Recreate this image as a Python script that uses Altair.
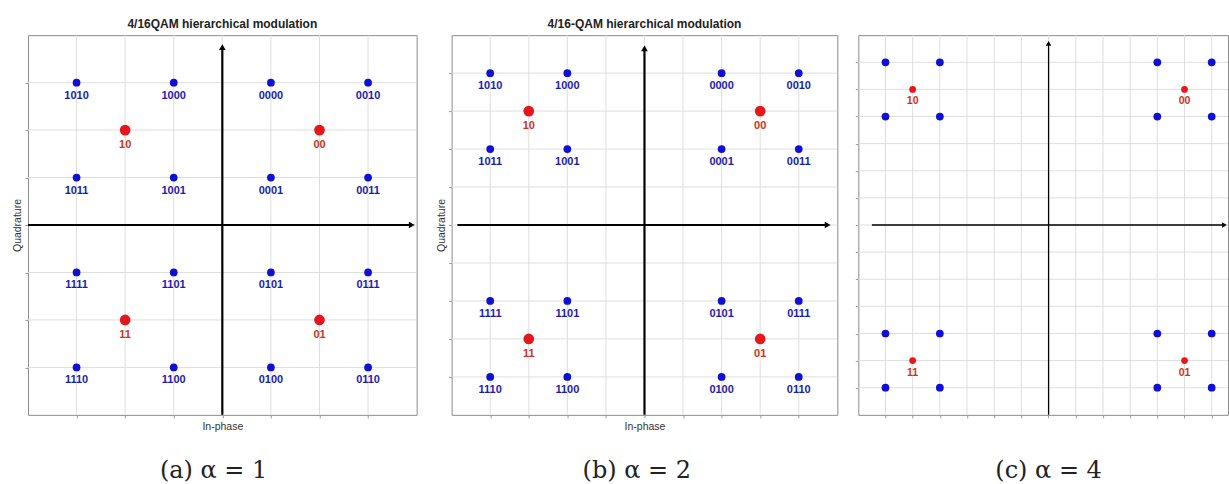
import altair as alt
import pandas as pd

# ---- data ----
blue_labels = ["0000", "0010", "0001", "0011",
               "1010", "1000", "1011", "1001",
               "1111", "1101", "1110", "1100",
               "0101", "0111", "0100", "0110"]
blue_i_a = [1, 3, 1, 3, -3, -1, -3, -1, -3, -1, -3, -1, 1, 3, 1, 3]
blue_q_a = [3, 3, 1, 1, 3, 3, 1, 1, -1, -1, -3, -3, -1, -1, -3, -3]
blue_i_b = [2, 4, 2, 4, -4, -2, -4, -2, -4, -2, -4, -2, 2, 4, 2, 4]
blue_q_b = [4, 4, 2, 2, 4, 4, 2, 2, -2, -2, -4, -4, -2, -2, -4, -4]
blue_i_c = [4, 6, 4, 6, -6, -4, -6, -4, -6, -4, -6, -4, 4, 6, 4, 6]
blue_q_c = [6, 6, 4, 4, 6, 6, 4, 4, -4, -4, -6, -6, -4, -4, -6, -6]

red_labels = ["00", "10", "11", "01"]
red_i_a = [2, -2, -2, 2]
red_q_a = [2, 2, -2, -2]
red_i_b = [3, -3, -3, 3]
red_q_b = [3, 3, -3, -3]
red_i_c = [5, -5, -5, 5]
red_q_c = [5, 5, -5, -5]

grid_a = [-3, -2, -1, 0, 1, 2, 3]
grid_b = [-4, -3, -2, -1, 0, 1, 2, 3, 4]
grid_c_x = [-6, -5, -4, -3, -2, -1, 0, 1, 2, 3, 4, 5, 6]
grid_c_y = [-6, -5, -4, -3, -2, -1, 0, 1, 2, 3, 4, 5, 6]

headers = ["4/16QAM hierarchical modulation", "4/16-QAM hierarchical modulation", ""]
captions = ["(a) \u03b1 = 1", "(b) \u03b1 = 2", "(c) \u03b1 = 4"]

BLUE = "#0f0fd6"
RED = "#e5161c"
BLUE_TXT = "#1c1cb0"
RED_TXT = "#cc3322"
FRAME = "#8c8c8c"
GRID = "#dedede"


def panel(bi, bq, ri, rq, xdom, ydom, gx, gy, w, h, header, caption, cap_x,
          show_blue_text, red_size, lw, xline, yline_top, xarrow, ytitle, xtitle):
    axx = dict(values=gx, tickCount=len(gx), labels=False, tickSize=3,
               tickColor="#999999", domain=False, grid=False, titleFontSize=10.5,
               titleFontWeight="normal",
               titleColor="#333333", titlePadding=3, titleFont="Liberation Sans")
    axy = dict(axx)
    axy["values"] = gy
    axy["tickCount"] = len(gy)
    axy["titlePadding"] = 2
    axx["title"] = xtitle
    axy["title"] = ytitle
    xs = alt.Scale(domain=xdom, nice=False, zero=False)
    ys = alt.Scale(domain=ydom, nice=False, zero=False)

    blue = pd.DataFrame({"I": bi, "Q": bq, "label": blue_labels})
    red = pd.DataFrame({"I": ri, "Q": rq, "label": red_labels})

    base = alt.Chart(blue).mark_circle(size=0, opacity=0).encode(
        x=alt.X("I:Q", scale=xs, axis=alt.Axis(**axx)),
        y=alt.Y("Q:Q", scale=ys, axis=alt.Axis(**axy)),
    )
    vgrid = alt.Chart(pd.DataFrame({"I": gx})).mark_rule(
        color=GRID, strokeWidth=1).encode(x="I:Q")
    hgrid = alt.Chart(pd.DataFrame({"Q": gy})).mark_rule(
        color=GRID, strokeWidth=1).encode(y="Q:Q")

    lines = pd.DataFrame({"I": [xline[0], 0], "I2": [xline[1], 0],
                          "Q": [0, ydom[0]], "Q2": [0, yline_top]})
    rules = alt.Chart(lines).mark_rule(color="black", strokeWidth=lw).encode(
        x="I:Q", x2="I2:Q", y="Q:Q", y2="Q2:Q")
    asz = 45 if lw > 1.5 else 30
    arr_r = alt.Chart(pd.DataFrame({"I": [xarrow], "Q": [0]})).mark_point(
        shape="triangle-right", filled=True, color="black", opacity=1,
        size=asz).encode(x="I:Q", y="Q:Q")
    arr_u = alt.Chart(pd.DataFrame({"I": [0], "Q": [yline_top]})).mark_point(
        shape="triangle-up", filled=True, color="black", opacity=1,
        size=asz).encode(x="I:Q", y="Q:Q")

    bpts = alt.Chart(blue).mark_circle(size=60, color=BLUE, opacity=1).encode(
        x="I:Q", y="Q:Q")
    rpts = alt.Chart(red).mark_circle(size=red_size, color=RED, opacity=1).encode(
        x="I:Q", y="Q:Q")
    rtxt = alt.Chart(red).mark_text(dy=15 if red_size > 60 else 12,
                                    fontSize=11 if red_size > 60 else 10.5,
                                    fontWeight="bold", color=RED_TXT,
                                    font="Liberation Sans").encode(
        x="I:Q", y="Q:Q", text="label:N")
    cap = alt.Chart(pd.DataFrame({"I": [cap_x], "t": [caption]})).mark_text(
        font="DejaVu Serif", fontSize=24, color="#222222",
        baseline="alphabetic").encode(x="I:Q", y=alt.value(h + 63), text="t:N")

    layers = [base, vgrid, hgrid, rules, arr_r, arr_u, bpts, rpts, rtxt]
    if show_blue_text:
        btxt = alt.Chart(blue).mark_text(dy=13, fontSize=11, fontWeight="bold",
                                         color=BLUE_TXT,
                                         font="Liberation Sans").encode(
            x="I:Q", y="Q:Q", text="label:N")
        layers.append(btxt)
    layers.append(cap)
    ch = alt.layer(*layers).properties(
        width=w, height=h, view=alt.ViewBackground(stroke=FRAME, strokeWidth=1))
    if header:
        ch = ch.properties(title=alt.TitleParams(
            text=header, fontSize=12, fontWeight="bold", color="#222222",
            font="Liberation Sans", offset=4, anchor="middle"))
    return ch


def spacer(w, h):
    return alt.Chart(pd.DataFrame({"s": [0]})).mark_point(opacity=0).encode(
        x=alt.X("s:Q", axis=None), y=alt.Y("s:Q", axis=None)
    ).properties(width=w, height=h,
                 view=alt.ViewBackground(stroke="transparent"))


pa = panel(blue_i_a, blue_q_a, red_i_a, red_q_a, [-4, 4], [-4, 4],
           grid_a, grid_a, 389, 380, headers[0], captions[0], -0.18, True,
           115, 2.2, (-4, 3.9), 3.75, 3.9, "Quadrature", "In-phase")
pb = panel(blue_i_b, blue_q_b, red_i_b, red_q_b, [-5, 5], [-5, 5],
           grid_b, grid_b, 386, 380, headers[1], captions[1], -0.2, True,
           115, 2.2, (-4.85, 4.75), 4.65, 4.75, "Quadrature", "In-phase")
pc = panel(blue_i_c, blue_q_c, red_i_c, red_q_c, [-7, 6.6], [-7, 7],
           grid_c_x, grid_c_y, 370, 380, headers[2], captions[2], 0, False,
           45, 1.3, (-6.5, 6.45), 6.7, 6.47, "", "")

chart = alt.hconcat(pa, spacer(21, 380), pb, spacer(7, 380), pc,
                    spacing=7, bounds="flush").properties(
    padding={"left": 12, "top": 17, "right": 0, "bottom": 0}
)

chart.save("out.html", embed_options={"renderer": "svg", "actions": False})
